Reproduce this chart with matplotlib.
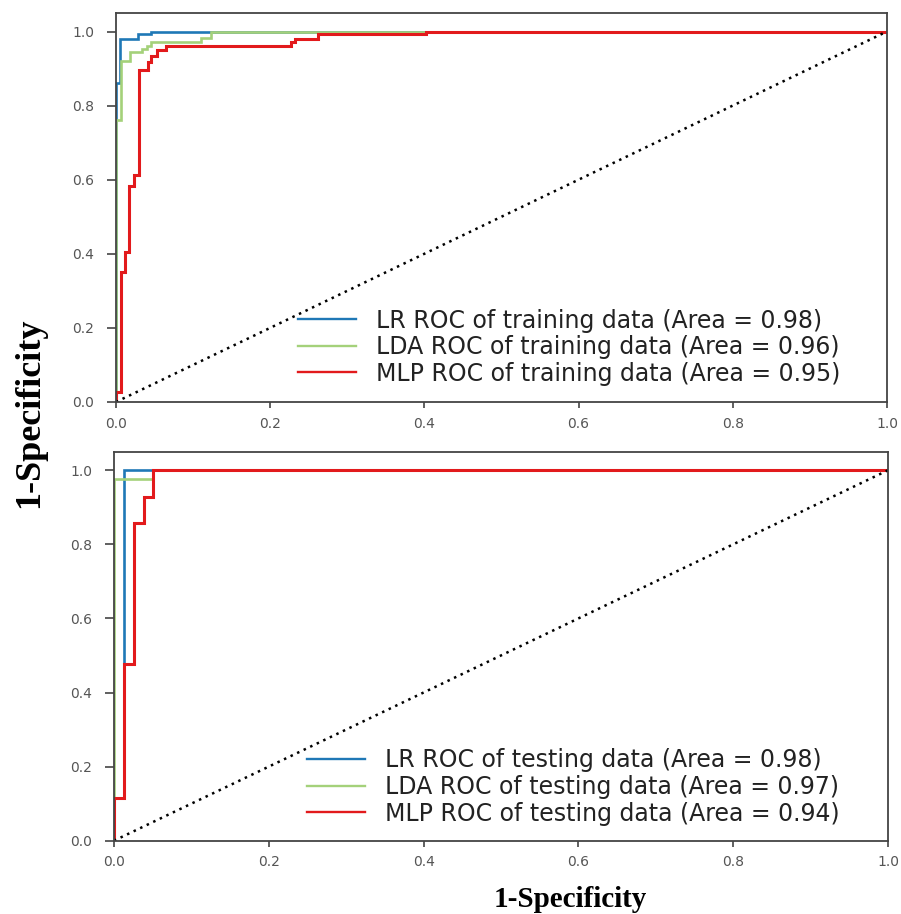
import matplotlib
matplotlib.use("Agg")
import matplotlib.pyplot as plt

# ---------------- data ----------------
# Training ROC curves (step-wise points)
lr_train_x = [0.0, 0.0, 0.005, 0.005, 0.029, 0.029, 0.046, 0.046, 1.0]
lr_train_y = [0.0, 0.861, 0.861, 0.980, 0.980, 0.992, 0.992, 1.0, 1.0]

lda_train_x = [0.0, 0.0, 0.006, 0.006, 0.018, 0.018, 0.034, 0.034, 0.040, 0.040,
               0.046, 0.046, 0.110, 0.110, 0.123, 0.123, 1.0]
lda_train_y = [0.0, 0.762, 0.762, 0.920, 0.920, 0.945, 0.945, 0.953, 0.953, 0.962,
               0.962, 0.971, 0.971, 0.982, 0.982, 1.0, 1.0]

mlp_train_x = [0.0, 0.0, 0.006, 0.006, 0.0117, 0.0117, 0.0173, 0.0173, 0.0233, 0.0233,
               0.0297, 0.0297, 0.041, 0.041, 0.046, 0.046, 0.0527, 0.0527, 0.065, 0.065,
               0.2266, 0.2266, 0.232, 0.232, 0.262, 0.262, 0.402, 0.402, 1.0]
mlp_train_y = [0.0, 0.028, 0.028, 0.350, 0.350, 0.406, 0.406, 0.584, 0.584, 0.612,
               0.612, 0.897, 0.897, 0.917, 0.917, 0.935, 0.935, 0.951, 0.951, 0.962,
               0.962, 0.971, 0.971, 0.980, 0.980, 0.992, 0.992, 1.0, 1.0]

# Testing ROC curves
lr_test_x = [0.0, 0.0, 0.0125, 0.0125, 1.0]
lr_test_y = [0.0, 0.116, 0.116, 1.0, 1.0]

lda_test_x = [0.0, 0.0, 0.050, 0.050, 1.0]
lda_test_y = [0.0, 0.977, 0.977, 1.0, 1.0]

mlp_test_x = [0.0, 0.0, 0.0125, 0.0125, 0.0258, 0.0258, 0.0383, 0.0383, 0.0503, 0.0503, 1.0]
mlp_test_y = [0.0, 0.116, 0.116, 0.477, 0.477, 0.858, 0.858, 0.928, 0.928, 1.0, 1.0]

train_labels = ["LR ROC of training data (Area = 0.98)",
                "LDA ROC of training data (Area = 0.96)",
                "MLP ROC of training data (Area = 0.95)"]
test_labels = ["LR ROC of testing data (Area = 0.98)",
               "LDA ROC of testing data (Area = 0.97)",
               "MLP ROC of testing data (Area = 0.94)"]

ticks = [0.0, 0.2, 0.4, 0.6, 0.8, 1.0]
tick_labels = ["0.0", "0.2", "0.4", "0.6", "0.8", "1.0"]

# ---------------- style ----------------
c_blue = "#1f78b6"
c_green = "#a4d17a"
c_red = "#e21a1c"
spine_col = "#444444"

fig = plt.figure(figsize=(9.01, 9.14), dpi=100)
ax1 = fig.add_axes([0.1287, 0.5602, 0.8557, 0.4256])
ax2 = fig.add_axes([0.1265, 0.0802, 0.8591, 0.4256])


def style(ax):
    ax.set_xlim(0, 1)
    ax.set_ylim(0, 1.05)
    ax.set_xticks(ticks)
    ax.set_xticklabels(tick_labels)
    ax.set_yticks(ticks)
    ax.set_yticklabels(tick_labels)
    for s in ax.spines.values():
        s.set_color(spine_col)
        s.set_linewidth(1.3)
    ax.tick_params(axis="x", direction="out", length=4.5, width=1.2, color=spine_col,
                   labelsize=10, labelcolor="#555555", pad=6.0)
    ax.tick_params(axis="y", direction="out", length=6.5, width=1.2, color=spine_col,
                   labelsize=10, labelcolor="#555555", pad=9.0)
    for lab in ax.get_xticklabels() + ax.get_yticklabels():
        lab.set_family("DejaVu Sans")


def draw(ax, curves, labels, anchor):
    handles = []
    for (x, y), col, lab, lw in zip(curves, [c_blue, c_green, c_red], labels,
                                    [1.9, 1.9, 2.2]):
        h, = ax.plot(x, y, color=col, lw=lw, label=lab, solid_joinstyle="miter")
        handles.append(h)
    ax.plot([0, 1], [0, 1], color="black", ls=(0, (1, 1.9)), lw=1.8)
    leg = ax.legend(handles=handles, loc="center left", bbox_to_anchor=anchor,
                    frameon=False, prop={"family": "DejaVu Sans", "size": 17},
                    handlelength=2.45, handletextpad=0.85, labelspacing=0.11,
                    borderpad=0.0, borderaxespad=0.0)
    for t in leg.get_texts():
        t.set_color("#222222")
    for l in leg.get_lines():
        l.set_linewidth(1.7)


draw(ax1, [(lr_train_x, lr_train_y), (lda_train_x, lda_train_y), (mlp_train_x, mlp_train_y)],
     train_labels, (0.236, 0.141))
draw(ax2, [(lr_test_x, lr_test_y), (lda_test_x, lda_test_y), (mlp_test_x, mlp_test_y)],
     test_labels, (0.249, 0.138))
style(ax1)
style(ax2)

fig.text(0.0333, 0.5481, "1-Specificity", rotation=90, ha="center", va="center",
         family="Liberation Serif", weight="bold", fontsize=26)
fig.text(0.6326, 0.0164, "1-Specificity", ha="center", va="center",
         family="Liberation Serif", weight="bold", fontsize=21)

fig.savefig("out.png", dpi=100)
